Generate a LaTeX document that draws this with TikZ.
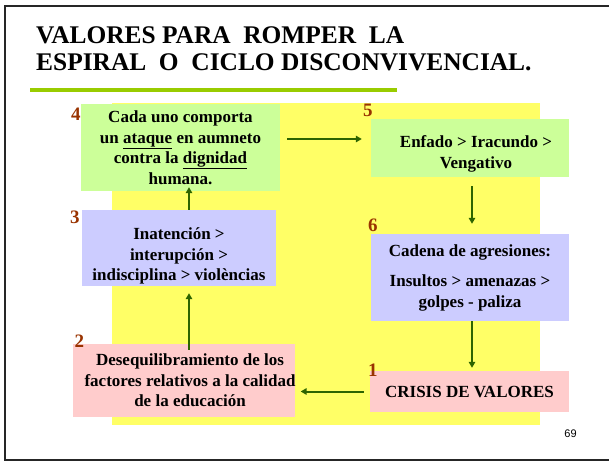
\documentclass[tikz,border=0pt]{standalone}
\usepackage{fontspec}
\setmainfont{Liberation Serif}
\newfontfamily\pagefont{Liberation Sans}
\usepackage{tikz}
\usetikzlibrary{calc,positioning,arrows.meta}
\definecolor{ylw}{RGB}{255,255,102}
\definecolor{grbox}{RGB}{204,255,153}
\definecolor{blbox}{RGB}{204,204,255}
\definecolor{pkbox}{RGB}{255,204,204}
\definecolor{arrgreen}{RGB}{45,100,0}
\definecolor{rulegreen}{RGB}{153,204,0}
\definecolor{numred}{RGB}{153,51,0}

\begin{document}
\begin{tikzpicture}[x=1pt,y=1pt,
	box/.style={shape=rectangle,inner sep=0pt,align=center,font=\bfseries\fontsize{17}{20.5}\selectfont},
	num/.style={inner sep=0pt,text=numred,font=\bfseries\fontsize{19}{19}\selectfont},
	arr/.style={-{Triangle[length=6pt,width=6.5pt]},line width=2pt,draw=arrgreen}]
		\useasboundingbox (0,0) rectangle (609,461);
		% slide frame, title and rule
		\draw[line width=2pt,black!85] (5,1) rectangle (615,455);
		\node(t) at (36,390) [anchor=base west,inner sep=0pt,align=left,font=\bfseries\fontsize{25.4}{27}\selectfont]
			{VALORES PARA\ \ ROMPER\ \ LA\\ESPIRAL\ \ O\ \ CICLO DISCONVIVENCIAL.};
		\draw[line width=4pt,rulegreen] (30,371) -- (397,371);
		\fill[ylw] (112,36) rectangle (540,358);
		% the six steps
		\node(b4) at (180.5,313.5) [box,fill=grbox,minimum width=199pt,minimum height=87pt]
			{Cada uno comporta\\un \underline{ataque} en aumneto\\contra la \underline{dignidad}\\humana.};
		\node(b5) at (470,313) [box,fill=grbox,minimum width=198pt,minimum height=58pt]
			{\rule{0pt}{24pt}\hspace*{12pt}Enfado > Iracundo >\\\hspace*{12pt}Vengativo};
		\node(b6) at (470,183.5) [box,fill=blbox,minimum width=198pt,minimum height=87pt]
			{Cadena de agresiones:\\[10pt]Insultos > amenazas >\\golpes - paliza};
		\node(b3) at (179,213) [box,fill=blbox,minimum width=194pt,minimum height=76pt]
			{\rule{0pt}{28pt}Inatención >\\interupción >\\indisciplina > violèncias};
		\node(b2) at (184,80.5) [box,fill=pkbox,minimum width=222pt,minimum height=73pt]
			{\hspace*{12pt}Desequilibramiento de los\\\hspace*{12pt}factores relativos a la calidad\\\hspace*{12pt}de la educación};
		\node(b1) at (469.5,69.5) [box,fill=pkbox,minimum width=199pt,minimum height=41pt]
			{CRISIS DE VALORES};
		% step numbers
		\node(n4) at ([yshift=-4pt]b4.north west) [num,anchor=north east] {4};
		\node(n5) at ([xshift=-8pt,yshift=2pt]b5.north west) [num,anchor=base west] {5};
		\node(n6) at ([xshift=-3pt,yshift=2pt]b6.north west) [num,anchor=base west] {6};
		\node(n3) at ([xshift=-2pt,yshift=-1pt]b3.north west) [num,anchor=north east] {3};
		\node(n2) at ([xshift=2pt,yshift=-4pt]b2.north west) [num,anchor=base west] {2};
		\node(n1) at ([xshift=-2pt,yshift=-6pt]b1.north west) [num,anchor=base west] {1};
		% the cycle
		\draw[arr] ([xshift=7pt,yshift=8.5pt]b4.east) -- ([xshift=-9pt,yshift=9pt]b5.west);
		\draw[arr,shorten <=9pt,shorten >=10pt] ([xshift=2pt]b5.south) -- ([xshift=2pt]b6.north);
		\draw[arr,shorten >=3pt] ([xshift=2pt]b6.south) -- ([xshift=2.5pt]b1.north);
		\draw[arr,shorten <=6pt,shorten >=5pt] (b1.west) -- (b1.west -| b2.east);
		\draw[arr] ([xshift=5pt,yshift=-6pt]b2.north) -- ([xshift=10pt,yshift=-7pt]b3.south);
		\draw[arr] ([xshift=10pt]b3.north) -- ([xshift=8.5pt,yshift=4pt]b4.south);
		\node(p) at (570.5,24) [anchor=base,inner sep=0pt,font=\pagefont\fontsize{11}{11}\selectfont] {69};
	\end{tikzpicture}
\end{document}
